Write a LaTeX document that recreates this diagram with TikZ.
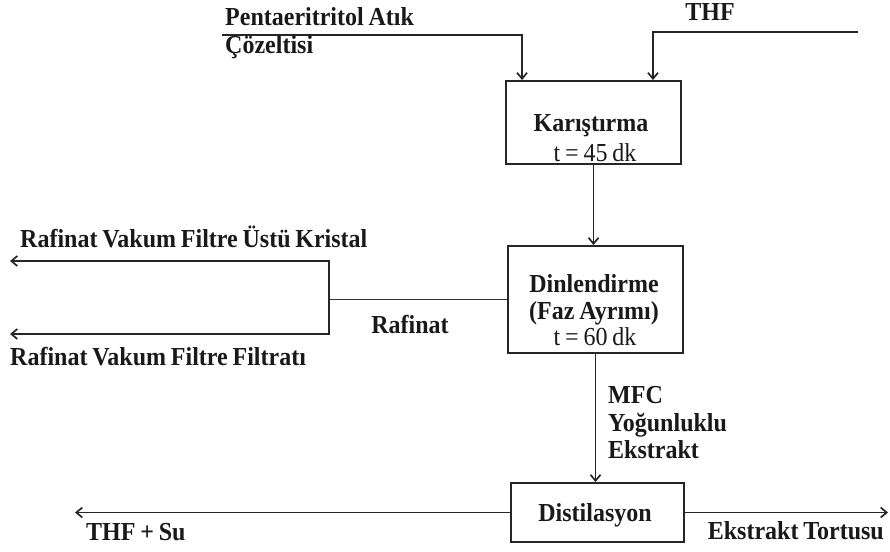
\documentclass[tikz,border=0pt]{standalone}
\usepackage{fontspec}
\setmainfont[WordSpace=0.8]{Liberation Serif}
\usetikzlibrary{arrows.meta,calc}
\begin{document}
\begin{tikzpicture}[x=1pt,y=-1pt,
  box/.style={draw=black!85,line width=1.9pt,inner sep=0pt},
  lbl/.style={inner sep=0pt,yscale=1.08,text=black!90,font=\fontsize{24}{28}\selectfont\bfseries},
  tlbl/.style={inner sep=0pt,yscale=1.08,text=black!90,font=\fontsize{24}{28}\selectfont},
  flow/.style={draw=black!85,line width=1.7pt,-{Straight Barb[length=6pt,width=10pt]}},
  pipe/.style={draw=black!80,line width=1.7pt}]
\useasboundingbox (0,0) rectangle (890,551);

% process units
\node[box,minimum width=175pt,minimum height=83pt] (karis) at (593.5,122.5) {};
\node[box,minimum width=175pt,minimum height=107pt] (dinl) at (595.5,299.5) {};
\node[box,minimum width=173pt,minimum height=59pt] (dist) at (597.5,512.5) {};

% texts inside the units
\node[lbl,anchor=base] (karisT) at (591,131) {Karıştırma};
\node[tlbl,anchor=base] (karisTime) at (595,161) {t = 45 dk};
\node[lbl,anchor=base] (dinlT) at (594,292) {Dinlendirme};
\node[lbl,anchor=base] (dinlT2) at (594,319) {(Faz Ayrımı)};
\node[tlbl,anchor=base] (dinlTime) at (595,345) {t = 60 dk};
\node[lbl,anchor=base] (distT) at (595,521) {Distilasyon};

% stream names
\node[lbl,anchor=base west] (penta1) at (225,26) {Pentaeritritol Atık};
\node[lbl,anchor=base west] (penta2) at (225,53) {Çözeltisi};
\node[lbl,anchor=base] (thf) at (710,21) {THF};
\node[lbl,anchor=base west] (kristal) at (20,247) {Rafinat Vakum Filtre Üstü Kristal};
\node[lbl,anchor=base west] (filtrat) at (10,365) {Rafinat Vakum Filtre Filtratı};
\node[lbl,anchor=base] (rafinat) at (410,333) {Rafinat};
\node[lbl,anchor=base west] (mfc1) at (608,403) {MFC};
\node[lbl,anchor=base west] (mfc2) at (608,431) {Yoğunluklu};
\node[lbl,anchor=base west] (mfc3) at (608,458) {Ekstrakt};
\node[lbl,anchor=base west] (thfsu) at (86,540) {THF + Su};
\node[lbl,anchor=base east] (tortu) at (884,539) {Ekstrakt Tortusu};

% free stream ends
\coordinate (pIn) at (222,35);
\coordinate (thfIn) at (858,32);
\coordinate (split) at (329,299.5);
\coordinate (kOut) at (10,261);
\coordinate (fOut) at (10,334);
\coordinate (suOut) at (75,513);
\coordinate (tOut) at (888,513);

% streams
\draw[flow] (pIn) -| ([xshift=17pt]karis.north west);
\draw[flow] (thfIn) -| ([xshift=-29pt]karis.north east);
\draw[flow] (karis.south) -- (karis.south |- dinl.north);
\draw[flow] (dinl.south) -- (dinl.south |- dist.north);
\draw[pipe] (dinl.west) -- (split);
\draw[flow] (split) |- (kOut);
\draw[flow] (split) |- (fOut);
\draw[flow] (dist.west) -- (dist.west -| suOut);
\draw[flow] (dist.east) -- (dist.east -| tOut);
\end{tikzpicture}
\end{document}
